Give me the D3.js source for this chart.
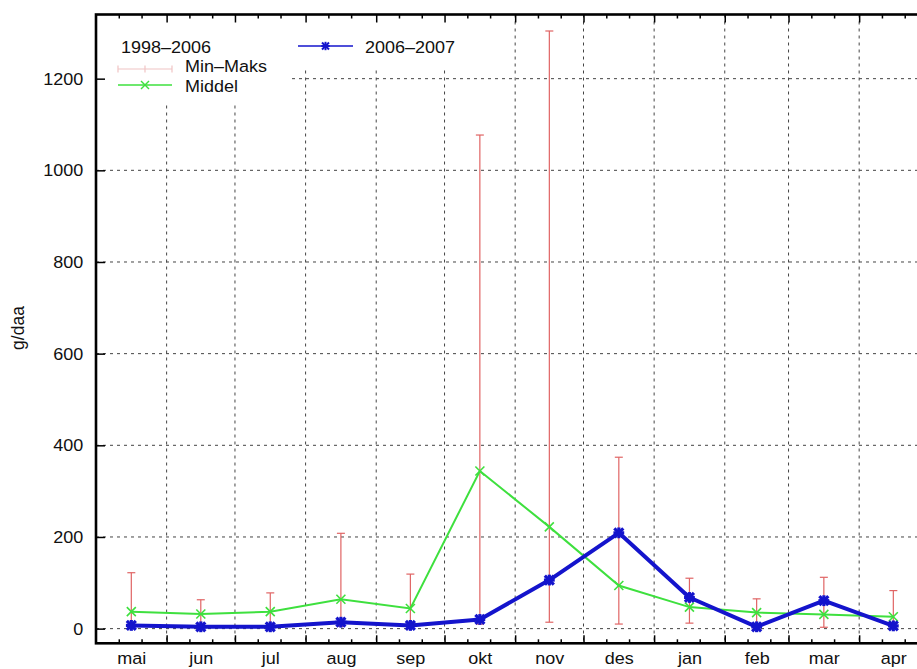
<!DOCTYPE html>
<html>
<head>
<meta charset="utf-8">
<script src="https://cdn.jsdelivr.net/npm/d3@7"></script>
<style>
html,body{margin:0;padding:0;background:#fff;}
svg{display:block;font-family:"Liberation Sans",Arial,Helvetica,sans-serif;}
</style>
</head>
<body>
<svg id="chart" width="917" height="669"></svg>
<script>
// ---- data ----
const months = ["mai","jun","jul","aug","sep","okt","nov","des","jan","feb","mar","apr"];
const middel = [37, 32, 37, 64, 44, 344, 222, 94, 47, 35, 31, 26];      // 1998–2006 mean
const season = [7, 4, 4, 14, 7, 20, 106, 209, 68, 4, 61, 6];            // 2006–2007
const minVals = [3, 2, 2, 5, 2, 10, 14, 10, 12, 1, 3, 1];
const maxVals = [122, 63, 78, 208, 119, 1077, 1304, 374, 110, 65, 112, 83];
const yTicks = [0, 200, 400, 600, 800, 1000, 1200];
const yLabel = "g/daa";
const legendTitle = "1998–2006";
const legendRange = "Min–Maks";
const legendMean = "Middel";
const legendSeason = "2006–2007";

// ---- layout ----
const svg = d3.select("#chart");
const pL = 96, pR = 927.5, pT = 14.5, pB = 643.3;
const startDate = new Date(2006, 4, 1), endDate = new Date(2007, 4, 1);
const x = d3.scaleTime().domain([startDate, endDate]).range([pL, pR]);
const y = d3.scaleLinear().domain([-32, 1340]).range([pB, pT]);

const monthStart = months.map((m, i) => new Date(2006, 4 + i, 1));
const monthMid = months.map((m, i) => {
  const a = new Date(2006, 4 + i, 1), b = new Date(2006, 5 + i, 1);
  return new Date((a.getTime() + b.getTime()) / 2);
});
const data = months.map((m, i) => ({
  m, d: monthMid[i], mean: middel[i], cur: season[i], lo: minVals[i], hi: maxVals[i]
}));

const FS = 17;
const SX = 1.06; // horizontal text stretch
const FONT = "Liberation Sans, Arial, sans-serif";
const textCol = "#111";
const gridCol = "#444";
const red = "#e06464";
const green = "#3ee03e";
const blue = "#1414cc";

// ---- grid ----
const grid = svg.append("g");
grid.selectAll("line.h").data(yTicks).join("line")
  .attr("x1", pL).attr("x2", pR)
  .attr("y1", d => y(d)).attr("y2", d => y(d))
  .attr("stroke", gridCol).attr("stroke-width", 1).attr("stroke-dasharray", "3,4");
grid.selectAll("line.v").data(monthStart.slice(1)).join("line")
  .attr("x1", d => x(d)).attr("x2", d => x(d))
  .attr("y1", pT).attr("y2", pB)
  .attr("stroke", gridCol).attr("stroke-width", 1).attr("stroke-dasharray", "3,4");

// key blanking boxes
svg.append("rect").attr("x", pL + 1).attr("y", pT + 1).attr("width", 290 - pL - 1).attr("height", 104 - pT - 1).attr("fill", "#fff");
svg.append("rect").attr("x", 290).attr("y", pT + 1).attr("width", 188).attr("height", 69 - pT - 1).attr("fill", "#fff");

// ---- error bars ----
const eb = svg.append("g").attr("stroke", red).attr("stroke-width", 1.2);
eb.selectAll("line.bar").data(data).join("line")
  .attr("x1", d => x(d.d)).attr("x2", d => x(d.d))
  .attr("y1", d => y(d.lo)).attr("y2", d => y(d.hi));
eb.selectAll("line.capT").data(data).join("line")
  .attr("x1", d => x(d.d) - 4).attr("x2", d => x(d.d) + 4)
  .attr("y1", d => y(d.hi)).attr("y2", d => y(d.hi));
eb.selectAll("line.capB").data(data).join("line")
  .attr("x1", d => x(d.d) - 4).attr("x2", d => x(d.d) + 4)
  .attr("y1", d => y(d.lo)).attr("y2", d => y(d.lo));

// ---- mean line ----
const line = key => d3.line().x(d => x(d.d)).y(d => y(d[key]));
svg.append("path").datum(data).attr("d", line("mean"))
  .attr("fill", "none").attr("stroke", green).attr("stroke-width", 2);
function crossMarker(g, cx, cy, r, col, w) {
  g.append("line").attr("x1", cx - r).attr("y1", cy - r).attr("x2", cx + r).attr("y2", cy + r).attr("stroke", col).attr("stroke-width", w);
  g.append("line").attr("x1", cx - r).attr("y1", cy + r).attr("x2", cx + r).attr("y2", cy - r).attr("stroke", col).attr("stroke-width", w);
}
function starMarker(g, cx, cy, r, col, w) {
  crossMarker(g, cx, cy, r, col, w);
  g.append("line").attr("x1", cx - r * 1.2).attr("y1", cy).attr("x2", cx + r * 1.2).attr("y2", cy).attr("stroke", col).attr("stroke-width", w);
  g.append("line").attr("x1", cx).attr("y1", cy - r * 1.2).attr("x2", cx).attr("y2", cy + r * 1.2).attr("stroke", col).attr("stroke-width", w);
}
const gm = svg.append("g");
data.forEach(d => crossMarker(gm, x(d.d), y(d.mean), 4.5, green, 1.6));

// ---- season line ----
svg.append("path").datum(data).attr("d", line("cur"))
  .attr("fill", "none").attr("stroke", blue).attr("stroke-width", 4).attr("stroke-linejoin", "round");
const gs = svg.append("g");
data.forEach(d => starMarker(gs, x(d.d), y(d.cur), 4.5, blue, 3.2));

// ---- axes ----
const styleText = sel => sel.selectAll("text")
  .attr("transform", `scale(${SX},1)`)
  .attr("font-size", FS).attr("fill", textCol).attr("font-family", FONT);
const yAx = svg.append("g").attr("transform", `translate(${pL},0)`)
  .call(d3.axisLeft(y).tickValues(yTicks).tickSize(-9).tickPadding(12).tickFormat(d3.format("d")));
yAx.select(".domain").remove();
yAx.selectAll("line").attr("stroke", "#000").attr("stroke-width", 1.5);
styleText(yAx);

const minorDays = d3.timeDay.range(startDate, endDate).filter(d => d.getDate() === 11 || d.getDate() === 21);
function tickAxis(gen, yPos, vals, size) {
  const g = svg.append("g").attr("transform", `translate(0,${yPos})`)
    .call(gen(x).tickValues(vals).tickSize(size).tickFormat(""));
  g.select(".domain").remove();
  g.selectAll("line").attr("stroke", "#000").attr("stroke-width", 1.5);
}
tickAxis(d3.axisBottom, pB, monthStart.slice(1), -8);
tickAxis(d3.axisBottom, pB, minorDays, -4);
tickAxis(d3.axisTop, pT, monthStart.slice(1), -8);
tickAxis(d3.axisTop, pT, minorDays, -4);

const xLab = svg.append("g").attr("transform", `translate(0,${pB})`)
  .call(d3.axisBottom(x).tickValues(monthMid).tickSize(0).tickPadding(8.5)
    .tickFormat((d, i) => months[i]));
xLab.select(".domain").remove();
styleText(xLab);

// border
svg.append("rect").attr("x", pL).attr("y", pT).attr("width", pR - pL).attr("height", pB - pT)
  .attr("fill", "none").attr("stroke", "#000").attr("stroke-width", 2.6);

// y label
svg.append("text").attr("transform", `translate(24,328) rotate(-90)`)
  .attr("text-anchor", "middle").attr("font-size", 17.5).attr("font-family", FONT)
  .attr("fill", textCol).text(yLabel);

// ---- legend ----
const lg = svg.append("g").attr("font-size", FS).attr("font-family", FONT).attr("fill", textCol);
function lt(tx, ty, s) {
  lg.append("text").attr("transform", `translate(${tx},${ty}) scale(${SX},1)`).text(s);
}
lt(121, 52.5, legendTitle);
// Min-Maks sample
const pale = "#f0c4c4";
lg.append("line").attr("x1", 118).attr("x2", 172).attr("y1", 69).attr("y2", 69).attr("stroke", pale).attr("stroke-width", 1.2);
[118, 145, 172].forEach(px => lg.append("line").attr("x1", px).attr("x2", px).attr("y1", 65.5).attr("y2", 72.5).attr("stroke", pale).attr("stroke-width", 1.2));
lt(185, 72, legendRange);
// Middel sample
lg.append("line").attr("x1", 118).attr("x2", 172).attr("y1", 85).attr("y2", 85).attr("stroke", green).attr("stroke-width", 1.5);
crossMarker(lg, 145, 85, 4, green, 1.5);
lt(185, 91.5, legendMean);
// 2006-2007 sample
lg.append("line").attr("x1", 298).attr("x2", 353).attr("y1", 46).attr("y2", 46).attr("stroke", blue).attr("stroke-width", 1.5);
starMarker(lg, 325.5, 46, 3.5, blue, 2);
lt(365, 53, legendSeason);
</script>
</body>
</html>
